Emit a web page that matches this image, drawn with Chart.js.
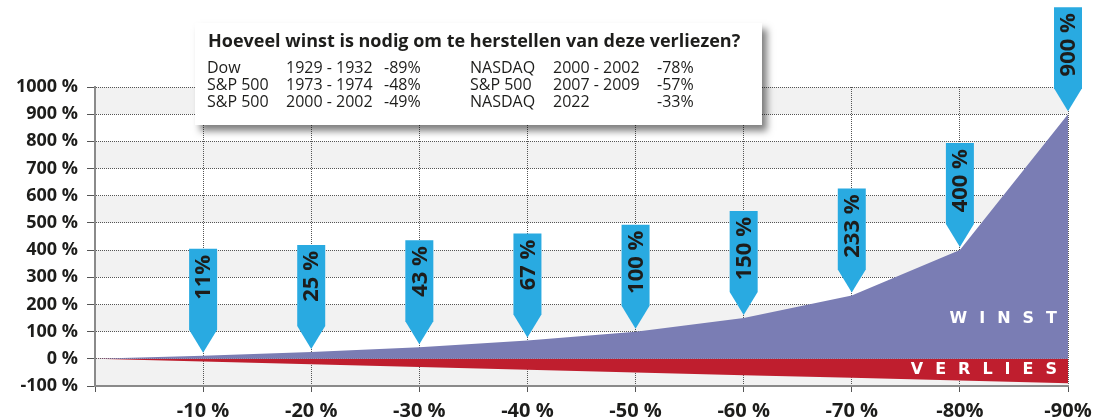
<!DOCTYPE html>
<html>
<head>
<meta charset="utf-8">
<script src="https://cdn.jsdelivr.net/npm/chart.js@4.4.1/dist/chart.umd.min.js"></script>
<style>
	html, body { margin: 0; padding: 0; background: #fff; }
	.wrap { position: relative; width: 1105px; height: 419px; overflow: hidden; font-family: 'Open Sans', sans-serif; color: #1d1d1b; }
	#chart { position: absolute; left: 0; top: 0; }
	.info-box { position: absolute; left: 195px; top: 23px; width: 567px; height: 102px; background: #fff; box-shadow: 5px 6px 7px rgba(0, 0, 0, 0.5); }
	.info-title { position: absolute; left: 13px; top: 8px; font-size: 18px; line-height: 18px; font-weight: 700; letter-spacing: 0; white-space: nowrap; }
	.info-row { position: absolute; left: 0; height: 16px; font-size: 16px; line-height: 16px; white-space: nowrap; }
	.info-row span { position: absolute; top: 0; }
	.area-label { position: absolute; right: 36px; color: #fff; font-family: 'DejaVu Sans', sans-serif; font-weight: 700; font-size: 16px; line-height: 16px; letter-spacing: 12px; }
</style>
</head>
<body>
<div class="wrap">
	<canvas id="chart" width="1105" height="419"></canvas>
	<div class="info-box" id="infoBox">
		<div class="info-title">Hoeveel winst is nodig om te herstellen van deze verliezen?</div>
	</div>
	<div class="area-label" style="top: 310px;">WINST</div>
	<div class="area-label" style="top: 361px;">VERLIES</div>
</div>
<script>
const losses = [0, -10, -20, -30, -40, -50, -60, -70, -80, -90];
const gains = [0, 11, 25, 43, 67, 100, 150, 233, 400, 900];
const calloutLabels = ['', '11%', '25 %', '43 %', '67 %', '100 %', '150 %', '233 %', '400 %', '900 %'];
const xTickLabels = ['', '-10 %', '-20 %', '-30 %', '-40 %', '-50 %', '-60 %', '-70 %', '-80%', '-90%'];
const yMin = -100;
const yMax = 1000;
const yStep = 100;

const marketNames = ['Dow', 'S&P 500', 'S&P 500', 'NASDAQ', 'S&P 500', 'NASDAQ'];
const marketPeriods = ['1929 - 1932', '1973 - 1974', '2000 - 2002', '2000 - 2002', '2007 - 2009', '2022'];
const marketDrops = ['-89%', '-48%', '-49%', '-78%', '-57%', '-33%'];

const colors = {
	winst: '#7a7db4',
	verlies: '#bf1e2e',
	callout: '#29aae1',
	band: '#f2f2f2',
	grid: '#555555',
	axis: '#8a8a8a',
	text: '#1d1d1b',
};

// info box rows: two blocks of three rows
const infoBox = document.getElementById('infoBox');
const columnLefts = [[12, 91, 189], [275, 358, 462]];
for (let row = 0; row < 3; row++) {
	const rowEl = document.createElement('div');
	rowEl.className = 'info-row';
	rowEl.style.top = (36 + row * 17) + 'px';
	[0, 1].forEach((block) => {
		const index = block * 3 + row;
		[marketNames[index], marketPeriods[index], marketDrops[index]].forEach((text, col) => {
			const span = document.createElement('span');
			span.textContent = text;
			span.style.left = columnLefts[block][col] + 'px';
			rowEl.appendChild(span);
		});
	});
	infoBox.appendChild(rowEl);
}

const bandPlugin = {
	id: 'bands',
	beforeDraw(chart) {
		const { ctx, chartArea, scales: { y } } = chart;
		ctx.save();
		ctx.fillStyle = colors.band;
		for (let v = yMax; v > yMin; v -= 2 * yStep) {
			const top = y.getPixelForValue(v);
			const bottom = y.getPixelForValue(v - yStep);
			ctx.fillRect(chartArea.left, top, chartArea.right - chartArea.left, bottom - top);
		}
		ctx.restore();
	},
};

const calloutPlugin = {
	id: 'callouts',
	afterDraw(chart) {
		const { ctx } = chart;
		const meta = chart.getDatasetMeta(0);
		ctx.save();
		meta.data.forEach((point, i) => {
			const label = calloutLabels[i];
			if (!label) {
				return;
			}
			const half = 14;
			const tipY = point.y - 3;
			const top = point.y - 107;
			const shoulder = tipY - 23;
			ctx.beginPath();
			ctx.moveTo(point.x - half, top);
			ctx.lineTo(point.x + half, top);
			ctx.lineTo(point.x + half, shoulder);
			ctx.lineTo(point.x, tipY);
			ctx.lineTo(point.x - half, shoulder);
			ctx.closePath();
			ctx.fillStyle = colors.callout;
			ctx.fill();

			ctx.save();
			ctx.translate(point.x + 1, top + 6);
			ctx.rotate(-Math.PI / 2);
			ctx.font = "700 22px 'Open Sans'";
			ctx.fillStyle = colors.text;
			ctx.textAlign = 'right';
			ctx.textBaseline = 'middle';
			ctx.fillText(label, 0, 0);
			ctx.restore();
		});
		ctx.restore();
	},
};

new Chart(document.getElementById('chart'), {
	type: 'line',
	data: {
		datasets: [
			{
				label: 'Winst',
				data: losses.map((loss, i) => ({ x: loss, y: gains[i] })),
				backgroundColor: colors.winst,
				borderWidth: 0,
				pointRadius: 0,
				fill: 'origin',
				tension: 0,
			},
			{
				label: 'Verlies',
				data: losses.map((loss) => ({ x: loss, y: loss })),
				backgroundColor: colors.verlies,
				borderWidth: 0,
				pointRadius: 0,
				fill: 'origin',
				tension: 0,
			},
		],
	},
	options: {
		responsive: false,
		animation: false,
		layout: { padding: { top: 87, right: 37, bottom: 0, left: 0 } },
		plugins: {
			legend: { display: false },
			tooltip: { enabled: false },
		},
		scales: {
			x: {
				type: 'linear',
				min: -90,
				max: 0,
				reverse: true,
				z: 1,
				afterFit: (scale) => { scale.height = 33; },
				grid: { color: colors.grid, lineWidth: 1, tickLength: 6, tickColor: colors.grid },
				border: { display: true, color: colors.axis, width: 2, dash: [1, 1] },
				ticks: {
					stepSize: 10,
					autoSkip: false,
					maxRotation: 0,
					padding: 7,
					color: colors.text,
					font: { family: 'Open Sans', size: 20, weight: '700' },
					callback: (value) => xTickLabels[losses.indexOf(value)] ?? '',
				},
			},
			y: {
				min: yMin,
				max: yMax,
				z: 1,
				afterFit: (scale) => { scale.width = 95; },
				grid: { color: colors.grid, lineWidth: 1, tickLength: 8, tickColor: colors.grid },
				border: { display: true, color: colors.axis, width: 2, dash: [1, 1] },
				ticks: {
					stepSize: yStep,
					padding: 9,
					color: colors.text,
					font: { family: 'Open Sans', size: 18, weight: '700' },
					callback: (value) => value + ' %',
				},
			},
		},
	},
	plugins: [bandPlugin, calloutPlugin],
});
</script>
</body>
</html>
